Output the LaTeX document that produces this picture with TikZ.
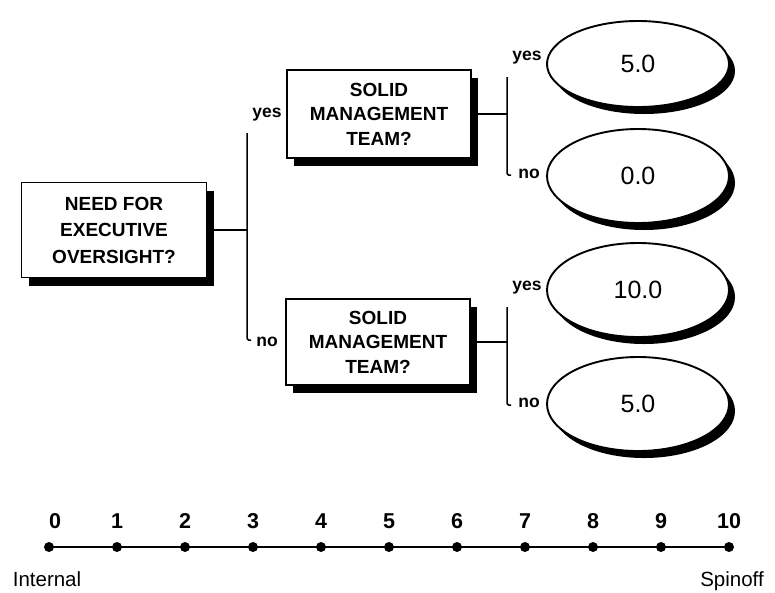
\documentclass[tikz,border=0pt]{standalone}
\usepackage{fontspec}
\setmainfont{Liberation Sans}
\usetikzlibrary{shapes.geometric,shadows}

\begin{document}
\begin{tikzpicture}[x=1pt,y=-1pt,
  question/.style={draw, line width=1.8pt, fill=white, align=center,
    inner sep=0pt, minimum width=184pt, minimum height=88pt,
    font=\fontsize{19}{24.5}\selectfont\bfseries,
    drop shadow={shadow xshift=7pt, shadow yshift=-8pt, opacity=1, fill=black}},
  outcome/.style={ellipse, draw, line width=1.9pt, fill=white, inner sep=0pt,
    minimum width=182pt, minimum height=92pt,
    font=\fontsize{25}{30}\selectfont,
    drop shadow={shadow xshift=6pt, shadow yshift=-7pt, opacity=1, fill=black}},
  wire/.style={line width=1.5pt},
  fork/.style={line width=1.5pt, rounded corners=1.5pt},
  branch/.style={inner sep=0pt, font=\fontsize{17.5}{20}\selectfont\bfseries},
  tick/.style={circle, fill=black, inner sep=0pt, minimum size=10pt},
  ticklabel/.style={inner sep=0pt, font=\fontsize{21.5}{24}\selectfont\bfseries},
  endlabel/.style={inner sep=0pt, anchor=base, font=\fontsize{20.5}{24}\selectfont}]

\useasboundingbox (0,0) rectangle (775,592);

% decision boxes
\node[question, minimum width=185pt, minimum height=95pt,
      font=\fontsize{19}{26.5}\selectfont\bfseries] (need) at (114,230)
      {NEED FOR\\EXECUTIVE\\OVERSIGHT?};
\node[question] (teamA) at (379,114) {SOLID\\MANAGEMENT\\TEAM?};
\node[question, minimum height=86pt] (teamB) at (378,342) {SOLID\\MANAGEMENT\\TEAM?};

% outcome values
\node[outcome, minimum height=86pt] (vA) at (638,64) {5.0};
\node[outcome, minimum height=94pt] (vB) at (638,176) {0.0};
\node[outcome, minimum height=94pt] (vC) at (638,290) {10.0};
\node[outcome, minimum height=94pt] (vD) at (638,404) {5.0};

% first fork
\coordinate (rootJ)   at (247,230);
\coordinate (rootTop) at (247,133);
\coordinate (rootBot) at (247,340);
\draw[wire] (need.east) -- (rootJ);
\draw[fork] (rootTop) -- (rootBot) -- ++(4,0);
\node[branch] (yesA) at (267,115) {yes};
\node[branch] (noA)  at (267,342) {no};

% upper fork
\coordinate (aJ)   at (507,114);
\coordinate (aTop) at (507,77);
\coordinate (aBot) at (507,175);
\draw[wire] (teamA.east) -- (aJ);
\draw[fork] (aTop) -- (aBot) -- ++(4,0);
\node[branch] (yesB) at (527,58)  {yes};
\node[branch] (noB)  at (529,174) {no};

% lower fork
\coordinate (bJ)   at (507,342);
\coordinate (bTop) at (507,307);
\coordinate (bBot) at (507,405);
\draw[wire] (teamB.east) -- (bJ);
\draw[fork] (bTop) -- (bBot) -- ++(4,0);
\node[branch] (yesC) at (527,288) {yes};
\node[branch] (noC)  at (529,403) {no};

% scale from 0 to 10
\foreach \i in {0,...,10} {
  \node[tick] (d\i) at ({49+68*\i},547) {};
}
\foreach \i in {1,...,10} {
  \node[ticklabel] (n\i) at ({49+68*\i},521) {\i};
}
\node[ticklabel] (n0) at (55,521) {0};
\draw[line width=1.4pt] (d0) -- (d10);
\node[endlabel] (internal) at (47,586) {Internal};
\node[endlabel] (spinoff) at (732,586) {Spinoff};

\end{tikzpicture}
\end{document}
